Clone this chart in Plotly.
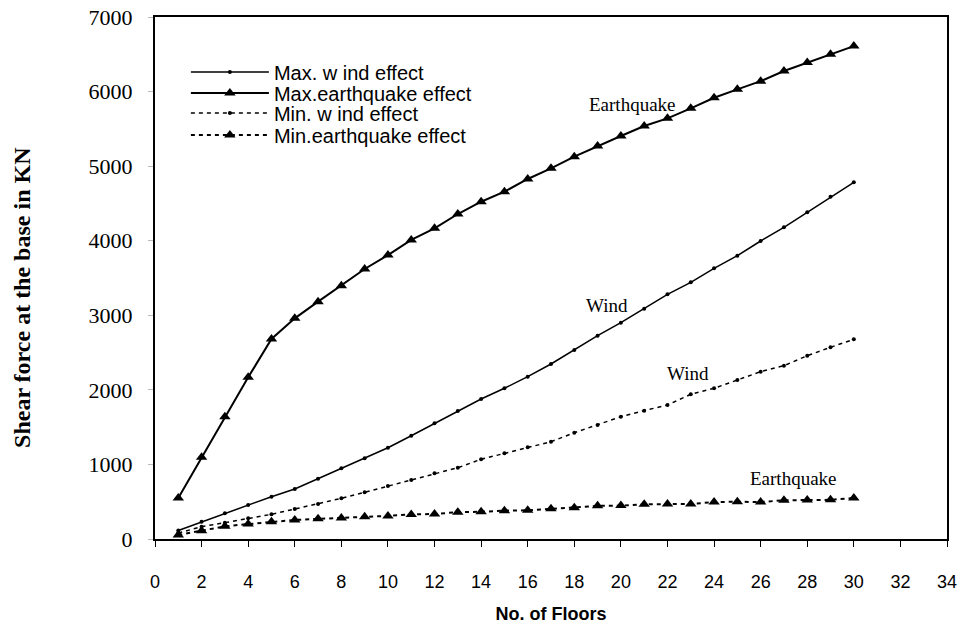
import plotly.graph_objects as go

floors = list(range(1, 31))

max_wind = [115, 230, 344, 456, 567, 670, 809, 948, 1082, 1224, 1385, 1551, 1716, 1877, 2021,
            2177, 2347, 2534, 2726, 2901, 3088, 3281, 3442, 3630, 3799, 3996, 4180, 4381, 4590, 4783]
max_eq = [550, 1095, 1640, 2168, 2682, 2959, 3183, 3397, 3621, 3808, 4010, 4166, 4358, 4523, 4657,
          4828, 4971, 5127, 5270, 5404, 5538, 5641, 5775, 5917, 6030, 6140, 6276, 6389, 6501, 6610]
min_wind = [80, 165, 219, 277, 331, 402, 469, 546, 626, 711, 791, 881, 956, 1069, 1149,
            1230, 1305, 1425, 1529, 1640, 1721, 1797, 1940, 2021, 2132, 2244, 2324, 2458, 2571, 2678]
min_eq = [54, 110, 170, 200, 230, 255, 270, 280, 300, 310, 330, 335, 360, 365, 380,
          385, 405, 420, 445, 448, 465, 468, 470, 495, 500, 495, 520, 522, 525, 550]

series_names = ["Max. w ind effect", "Max.earthquake effect", "Min. w ind effect", "Min.earthquake effect"]

x_ticks = list(range(0, 35, 2))
y_ticks = list(range(0, 7001, 1000))

labels = [
    ("Earthquake", 20.5, 5820),
    ("Wind", 19.4, 3125),
    ("Wind", 22.9, 2213),
    ("Earthquake", 27.4, 805),
]

fig = go.Figure()
fig.add_trace(go.Scatter(x=floors, y=max_wind, name=series_names[0], mode="lines+markers",
                         legend="legend",
                         line=dict(color="black", width=1.5),
                         marker=dict(symbol="circle", size=4, color="black")))
fig.add_trace(go.Scatter(x=floors, y=max_eq, name=series_names[1], mode="lines+markers",
                         legend="legend2",
                         line=dict(color="black", width=2),
                         marker=dict(symbol="triangle-up", size=10, color="black")))
fig.add_trace(go.Scatter(x=floors, y=min_wind, name=series_names[2], mode="lines+markers",
                         legend="legend3",
                         line=dict(color="black", width=1.5, dash="4px,4px"),
                         marker=dict(symbol="circle", size=4, color="black")))
fig.add_trace(go.Scatter(x=floors, y=min_eq, name=series_names[3], mode="lines+markers",
                         legend="legend4",
                         line=dict(color="black", width=2, dash="4px,4px"),
                         marker=dict(symbol="triangle-up", size=10, color="black")))

for txt, lx, ly in labels:
    fig.add_annotation(x=lx, y=ly, text=txt, showarrow=False,
                       font=dict(family="Liberation Serif", size=19, color="black"))

fig.add_annotation(xref="paper", yref="paper", x=-0.168, y=0.4636, textangle=-90,
                   xanchor="center", yanchor="middle",
                   text="<b>Shear force at the base in KN</b>", showarrow=False,
                   font=dict(family="Liberation Serif", size=24, color="black"))

legend_rows = [0.8946, 0.8544, 0.8161, 0.7739]
leg_common = dict(x=0.039, xanchor="left", yanchor="middle",
                  bgcolor="rgba(0,0,0,0)", borderwidth=0,
                  font=dict(family="Liberation Sans", size=20, color="black"),
                  itemwidth=78, tracegroupgap=0)

fig.update_layout(
    width=962, height=624,
    margin=dict(l=155, r=15, t=17, b=85, autoexpand=False),
    paper_bgcolor="white", plot_bgcolor="white",
    showlegend=True,
    legend=dict(y=legend_rows[0], **leg_common),
    legend2=dict(y=legend_rows[1], **leg_common),
    legend3=dict(y=legend_rows[2], **leg_common),
    legend4=dict(y=legend_rows[3], **leg_common),
)
fig.update_xaxes(range=[0, 34], tickmode="array", tickvals=x_ticks, ticktext=[str(v) for v in x_ticks],
                 automargin=False,
                 showgrid=False, zeroline=False, showline=True, linecolor="black", linewidth=1.5,
                 mirror=True, ticks="outside", ticklen=6, tickcolor="black",
                 ticklabelstandoff=20,
                 tickfont=dict(family="Liberation Sans", size=18, color="black"),
                 title=dict(text="<b>No. of Floors</b>", standoff=18,
                            font=dict(family="Liberation Sans", size=18, color="black")))
fig.update_yaxes(range=[0, 7000], tickmode="array", tickvals=y_ticks, ticktext=[str(v) for v in y_ticks],
                 automargin=False,
                 showgrid=False, zeroline=False, showline=True, linecolor="black", linewidth=2,
                 mirror=True, ticks="outside", ticklen=5, tickcolor="#bbbbbb",
                 ticklabelstandoff=11,
                 tickfont=dict(family="Liberation Serif", size=22, color="black"))

fig.write_html("out.html", config={"displayModeBar": False},
               post_script="document.body.style.margin='0px';")
